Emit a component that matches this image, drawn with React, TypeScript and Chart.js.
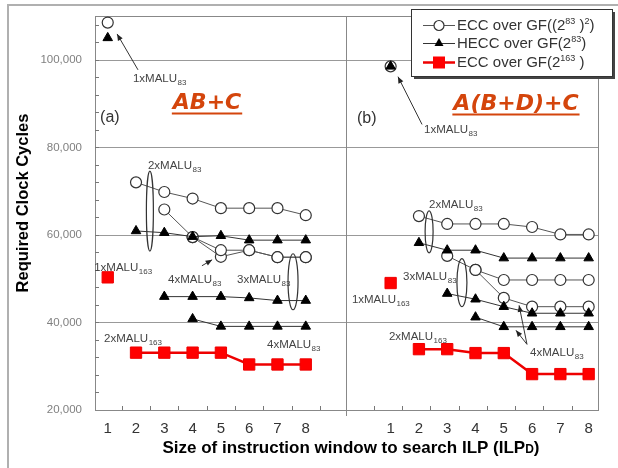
import { useEffect, useRef } from 'react';
import { Chart, registerables } from 'chart.js';
Chart.register(...registerables);

// ---- axis / categories ----
const windowLabels = ['1', '2', '3', '4', '5', '6', '7', '8'];
const PANEL_B_OFFSET = 10; // panel (b) is drawn to the right of panel (a) on the same axis
const yGridValues = [40000, 60000, 80000, 100000];
const yTickLabels = ['20,000', '40,000', '60,000', '80,000', '100,000'];
const yTickValues = [20000, 40000, 60000, 80000, 100000];

// ---- panel (a): AB+C ----
// ECC over GF((2^83)^2)
const eccA1 = [108500]; // window 1
const eccA2 = [72000, 69800, 68300, 66100, 66100, 66100, 64500]; // windows 2..8
const eccA3 = [65800, 59500, 56500, 56500, 54900, 54900]; // windows 3..8
const eccA4 = [59500, 55000, 56500, 54900, 54900]; // windows 4..8
// HECC over GF(2^83)
const hecA1 = [105000];
const hecA2 = [60900, 60500, 59600, 59800, 58800, 58800, 58800];
const hecA3 = [45900, 45900, 45900, 45600, 45000, 45000];
const hecA4 = [40800, 39100, 39100, 39100, 39100];
// ECC over GF(2^163)
const redA1 = [50300];
const redA2 = [33100, 33100, 33100, 33100, 30400, 30400, 30400];

// ---- panel (b): A(B+D)+C ----
const eccB1 = [98500];
const eccB2 = [64300, 62500, 62500, 62500, 61800, 60100, 60100];
const eccB3 = [55200, 52000, 49700, 49700, 49700, 49700];
const eccB4 = [52000, 45600, 43600, 43600, 43600];
const hecB1 = [98500];
const hecB2 = [58200, 56500, 56500, 54700, 54700, 54700, 54700];
const hecB3 = [46600, 45300, 43600, 42100, 42100, 42100];
const hecB4 = [41200, 39000, 39000, 39000, 39000];
const redB1 = [49000];
const redB2 = [33900, 33900, 33000, 33000, 28200, 28200, 28200];

// annotation anchors in data units: [count, subscript, x, y]
const maluLabels: [string, string, number, number][] = [
  ['1', '83', 1.89, 95000],
  ['2', '83', 2.42, 75000],
  ['1', '163', 0.52, 51800],
  ['4', '83', 3.13, 48900],
  ['3', '83', 5.57, 48900],
  ['2', '163', 0.87, 35450],
  ['4', '83', 6.63, 34100],
  ['1', '83', 12.18, 83200],
  ['2', '83', 12.36, 66100],
  ['3', '83', 11.44, 49800],
  ['1', '163', 9.63, 44550],
  ['2', '163', 10.94, 35900],
  ['4', '83', 15.93, 32300],
];
// arrows: [x1, y1, x2, y2] (head at second point)
const arrows: [number, number, number, number][] = [
  [2.07, 97700, 1.33, 105900],
  [4.33, 52950, 4.69, 54300],
  [12.11, 85230, 11.26, 96140],
  [15.82, 35000, 15.54, 43900],
  [15.82, 35000, 15.43, 38200],
];
// loops: [x, y, radiusX(px), radiusY(px)]
const loops: [number, number, number, number][] = [
  [2.49, 65450, 3.5, 40],
  [7.55, 49300, 5, 28],
  [12.36, 60700, 4, 21],
  [13.52, 49100, 5, 24],
];

function pts(values: number[], start: number, offset: number) {
  return values.map((v, i) => ({ x: start + i + offset, y: v }));
}

const FONT = '"Liberation Sans", Arial, sans-serif';

const eccStyle = {
  borderColor: '#555',
  backgroundColor: '#fff',
  pointBorderColor: '#333',
  pointBackgroundColor: '#fff',
  pointStyle: 'circle',
  pointRadius: 5.5,
  pointBorderWidth: 1.2,
  borderWidth: 1,
};
const hecStyle = {
  borderColor: '#333',
  backgroundColor: '#000',
  pointBorderColor: '#000',
  pointBackgroundColor: '#000',
  pointStyle: 'triangle',
  pointRadius: 5.5,
  pointBorderWidth: 1,
  borderWidth: 1,
};
const redStyle = {
  borderColor: '#ee0000',
  backgroundColor: '#ff0000',
  pointBorderColor: '#ee0000',
  pointBackgroundColor: '#ff0000',
  pointStyle: 'rect',
  pointRadius: 8,
  pointBorderWidth: 1,
  borderWidth: 2.5,
};

function drawMalu(ctx: CanvasRenderingContext2D, n: string, sub: string, x: number, y: number) {
  ctx.fillStyle = '#444';
  ctx.textAlign = 'left';
  ctx.textBaseline = 'alphabetic';
  ctx.font = `11.5px ${FONT}`;
  const main = n + 'xMALU';
  ctx.fillText(main, x, y);
  const w = ctx.measureText(main).width;
  ctx.font = `8px ${FONT}`;
  ctx.fillText(sub, x + w + 0.5, y + 3);
}

function drawArrow(ctx: CanvasRenderingContext2D, x1: number, y1: number, x2: number, y2: number) {
  ctx.strokeStyle = '#333';
  ctx.fillStyle = '#222';
  ctx.lineWidth = 1;
  ctx.beginPath();
  ctx.moveTo(x1, y1);
  ctx.lineTo(x2, y2);
  ctx.stroke();
  const a = Math.atan2(y2 - y1, x2 - x1);
  const L = 7;
  ctx.beginPath();
  ctx.moveTo(x2, y2);
  ctx.lineTo(x2 - L * Math.cos(a - 0.4), y2 - L * Math.sin(a - 0.4));
  ctx.lineTo(x2 - L * Math.cos(a + 0.4), y2 - L * Math.sin(a + 0.4));
  ctx.closePath();
  ctx.fill();
}

// draw text parts [text, isSup] at x baseline y
function drawRich(ctx: CanvasRenderingContext2D, parts: [string, number][], x: number, y: number, size: number) {
  let cx = x;
  for (const [t, mode] of parts) {
    if (mode === 1) {
      ctx.font = `${size * 0.6}px ${FONT}`;
      ctx.fillText(t, cx, y - size * 0.4);
    } else {
      ctx.font = `${size}px ${FONT}`;
      ctx.fillText(t, cx, y);
    }
    cx += ctx.measureText(t).width;
  }
}

const figurePlugin = {
  id: 'figure',
  beforeDatasetsDraw(chart: any) {
    const { ctx, chartArea: ca, scales } = chart;
    const xs = scales.x;
    const ys = scales.y;
    ctx.save();
    // outer frame
    ctx.strokeStyle = '#b0b0b0';
    ctx.lineWidth = 2;
    ctx.beginPath();
    ctx.moveTo(8, 468);
    ctx.lineTo(8, 5);
    ctx.lineTo(618, 5);
    ctx.stroke();

    // horizontal grid
    ctx.strokeStyle = '#999';
    ctx.lineWidth = 1;
    for (const v of yGridValues) {
      const y = Math.round(ys.getPixelForValue(v)) + 0.5;
      ctx.beginPath();
      ctx.moveTo(ca.left, y);
      ctx.lineTo(ca.right, y);
      ctx.stroke();
    }
    // plot border
    ctx.strokeStyle = '#888';
    ctx.strokeRect(Math.round(ca.left) + 0.5, Math.round(ca.top) + 0.5, Math.round(ca.right - ca.left), Math.round(ca.bottom - ca.top));
    // panel divider
    const dx = Math.round(xs.getPixelForValue(9.42)) + 0.5;
    ctx.beginPath();
    ctx.moveTo(dx, ca.top);
    ctx.lineTo(dx, ca.bottom + 6);
    ctx.stroke();
    // minor ticks on y axis
    ctx.strokeStyle = '#777';
    for (let v = 24000; v < 110000; v += 4000) {
      const y = Math.round(ys.getPixelForValue(v)) + 0.5;
      ctx.beginPath();
      ctx.moveTo(ca.left, y);
      ctx.lineTo(ca.left + 4, y);
      ctx.stroke();
    }
    // ticks on x axis
    const xTicks: number[] = [];
    windowLabels.forEach((_, i) => {
      xTicks.push(i + 1.5);
      xTicks.push(i + 0.4 + PANEL_B_OFFSET);
    });
    for (const v of xTicks) {
      const x = Math.round(xs.getPixelForValue(v)) + 0.5;
      ctx.beginPath();
      ctx.moveTo(x, ca.bottom);
      ctx.lineTo(x, ca.bottom - 4);
      ctx.stroke();
    }
    // y tick labels
    ctx.fillStyle = '#808080';
    ctx.font = `11.5px ${FONT}`;
    ctx.textAlign = 'right';
    ctx.textBaseline = 'middle';
    yTickValues.forEach((v, i) => {
      ctx.fillText(yTickLabels[i], ca.left - 13, ys.getPixelForValue(v));
    });
    // x tick labels
    ctx.fillStyle = '#333';
    ctx.font = `15px ${FONT}`;
    ctx.textAlign = 'center';
    windowLabels.forEach((lab, i) => {
      ctx.fillText(lab, xs.getPixelForValue(i + 1), ca.bottom + 19);
      ctx.fillText(lab, xs.getPixelForValue(i + 1 + PANEL_B_OFFSET), ca.bottom + 19);
    });
    // axis titles
    ctx.fillStyle = '#000';
    ctx.font = `bold 16.5px ${FONT}`;
    ctx.save();
    ctx.translate(23, 203);
    ctx.rotate(-Math.PI / 2);
    ctx.textAlign = 'center';
    ctx.fillText('Required Clock Cycles', 0, 0);
    ctx.restore();
    {
      const a = 'Size of instruction window to search ILP (ILP';
      ctx.font = `bold 17px ${FONT}`;
      const wa = ctx.measureText(a).width;
      ctx.font = `bold 12px ${FONT}`;
      const wd = ctx.measureText('D').width;
      ctx.font = `bold 17px ${FONT}`;
      const wc = ctx.measureText(')').width;
      const total = wa + wd + wc;
      let x = 351 - total / 2;
      ctx.textAlign = 'left';
      ctx.textBaseline = 'alphabetic';
      ctx.fillText(a, x, 453);
      x += wa;
      ctx.font = `bold 12px ${FONT}`;
      ctx.fillText('D', x, 453);
      x += wd;
      ctx.font = `bold 17px ${FONT}`;
      ctx.fillText(')', x, 453);
    }
    // panel labels
    ctx.fillStyle = '#333';
    ctx.font = `16px ${FONT}`;
    ctx.textAlign = 'left';
    ctx.textBaseline = 'middle';
    ctx.fillText('(a)', xs.getPixelForValue(0.73), ys.getPixelForValue(86800));
    ctx.fillText('(b)', xs.getPixelForValue(9.81), ys.getPixelForValue(86600));
    // operation titles
    const ops: [string, number, number][] = [
      ['AB+C', 4.51, 88860],
      ['A(B+D)+C', 15.43, 88640],
    ];
    ctx.fillStyle = '#d4450c';
    ctx.strokeStyle = '#d4450c';
    ctx.font = `italic bold 22px "DejaVu Sans", sans-serif`;
    ctx.textAlign = 'center';
    ctx.textBaseline = 'alphabetic';
    for (const [t, xv, yv] of ops) {
      const x = xs.getPixelForValue(xv);
      const y = ys.getPixelForValue(yv);
      ctx.fillText(t, x, y);
      const w = ctx.measureText(t).width;
      ctx.lineWidth = 2;
      ctx.beginPath();
      ctx.moveTo(x - w / 2 - 1, y + 5);
      ctx.lineTo(x + w / 2 + 1, y + 5);
      ctx.stroke();
    }
    ctx.restore();
  },
  afterDatasetsDraw(chart: any) {
    const { ctx, scales } = chart;
    const xs = scales.x;
    const ys = scales.y;
    ctx.save();
    for (const [n, sub, xv, yv] of maluLabels) {
      drawMalu(ctx, n, sub, xs.getPixelForValue(xv), ys.getPixelForValue(yv));
    }
    for (const [x1, y1, x2, y2] of arrows) {
      drawArrow(ctx, xs.getPixelForValue(x1), ys.getPixelForValue(y1), xs.getPixelForValue(x2), ys.getPixelForValue(y2));
    }
    ctx.strokeStyle = '#333';
    ctx.lineWidth = 1.2;
    for (const [xv, yv, rx, ry] of loops) {
      ctx.beginPath();
      ctx.ellipse(xs.getPixelForValue(xv), ys.getPixelForValue(yv), rx, ry, 0, 0, Math.PI * 2);
      ctx.stroke();
    }
    // legend
    const lx = 411, ly = 9, lw = 201, lh = 67;
    ctx.fillStyle = '#444';
    ctx.fillRect(lx + 3, ly + 3, lw, lh);
    ctx.fillStyle = '#fff';
    ctx.fillRect(lx, ly, lw, lh);
    ctx.strokeStyle = '#333';
    ctx.lineWidth = 1;
    ctx.strokeRect(lx + 0.5, ly + 0.5, lw, lh);
    const rows: { y: number; style: any; parts: [string, number][] }[] = [
      { y: 25, style: eccStyle, parts: [['ECC over GF((2', 0], ['83', 1], [' )', 0], ['2', 1], [')', 0]] },
      { y: 43, style: hecStyle, parts: [['HECC over GF(2', 0], ['83', 1], [')', 0]] },
      { y: 62, style: redStyle, parts: [['ECC over GF(2', 0], ['163', 1], [' )', 0]] },
    ];
    for (const r of rows) {
      const s = r.style;
      ctx.strokeStyle = s.borderColor;
      ctx.lineWidth = s.borderWidth;
      ctx.beginPath();
      ctx.moveTo(423, r.y + 0.5);
      ctx.lineTo(455, r.y + 0.5);
      ctx.stroke();
      ctx.fillStyle = s.pointBackgroundColor;
      ctx.strokeStyle = s.pointBorderColor;
      ctx.lineWidth = s.pointBorderWidth;
      if (s.pointStyle === 'circle') {
        ctx.beginPath();
        ctx.arc(439, r.y + 0.5, 5, 0, Math.PI * 2);
        ctx.fill();
        ctx.stroke();
      } else if (s.pointStyle === 'triangle') {
        ctx.beginPath();
        ctx.moveTo(439, r.y - 5);
        ctx.lineTo(443.5, r.y + 3);
        ctx.lineTo(434.5, r.y + 3);
        ctx.closePath();
        ctx.fill();
      } else {
        ctx.fillRect(433, r.y - 5.5, 12, 12);
      }
      ctx.fillStyle = '#333';
      ctx.textAlign = 'left';
      ctx.textBaseline = 'alphabetic';
      drawRich(ctx, r.parts, 457, r.y + 5, 15);
    }
    ctx.restore();
  },
};

export default function App() {
  const ref = useRef<HTMLCanvasElement | null>(null);
  useEffect(() => {
    if (!ref.current) return;
    const mk = (data: { x: number; y: number }[], style: any) => ({ data, ...style });
    const chart = new Chart(ref.current, {
      type: 'line',
      data: {
        // earlier datasets are drawn on top: red, then triangles, then circles
        datasets: [
          mk(pts(redA1, 1, 0), redStyle),
          mk(pts(redA2, 2, 0), redStyle),
          mk(pts(redB1, 1, PANEL_B_OFFSET), redStyle),
          mk(pts(redB2, 2, PANEL_B_OFFSET), redStyle),
          mk(pts(hecA1, 1, 0), hecStyle),
          mk(pts(hecA2, 2, 0), hecStyle),
          mk(pts(hecA3, 3, 0), hecStyle),
          mk(pts(hecA4, 4, 0), hecStyle),
          mk(pts(hecB1, 1, PANEL_B_OFFSET), hecStyle),
          mk(pts(hecB2, 2, PANEL_B_OFFSET), hecStyle),
          mk(pts(hecB3, 3, PANEL_B_OFFSET), hecStyle),
          mk(pts(hecB4, 4, PANEL_B_OFFSET), hecStyle),
          mk(pts(eccA1, 1, 0), eccStyle),
          mk(pts(eccA2, 2, 0), eccStyle),
          mk(pts(eccA3, 3, 0), eccStyle),
          mk(pts(eccA4, 4, 0), eccStyle),
          mk(pts(eccB1, 1, PANEL_B_OFFSET), eccStyle),
          mk(pts(eccB2, 2, PANEL_B_OFFSET), eccStyle),
          mk(pts(eccB3, 3, PANEL_B_OFFSET), eccStyle),
          mk(pts(eccB4, 4, PANEL_B_OFFSET), eccStyle),
        ] as any,
      },
      options: {
        responsive: false,
        animation: false,
        devicePixelRatio: 1,
        layout: { padding: { left: 95, top: 16, right: 20, bottom: 58 } },
        plugins: { legend: { display: false }, tooltip: { enabled: false } },
        scales: {
          x: { type: 'linear', min: 0.55, max: 18.33, display: false },
          y: { type: 'linear', min: 20000, max: 110000, display: false },
        },
        elements: { line: { tension: 0 } },
      } as any,
      plugins: [figurePlugin],
    });
    return () => chart.destroy();
  }, []);
  return (
    <div style={{ position: 'fixed', left: 0, top: 0, width: 618, height: 468, background: '#fff' }}>
      <canvas ref={ref} width={618} height={468} style={{ display: 'block' }} />
    </div>
  );
}
